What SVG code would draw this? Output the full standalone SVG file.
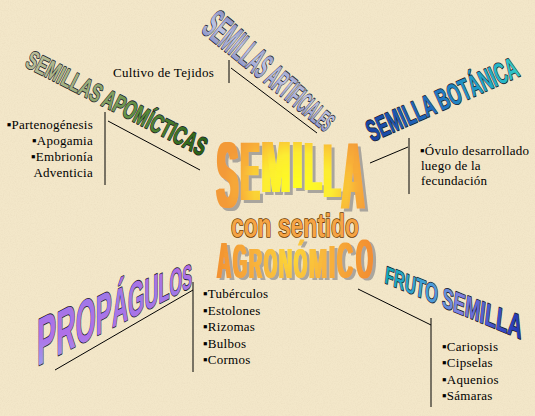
<svg xmlns="http://www.w3.org/2000/svg" width="535" height="416" viewBox="0 0 535 416">
<defs>
<style>
.t{font-family:"Liberation Serif","Times New Roman",serif;font-size:13px;fill:#000;letter-spacing:0.25px}
.wa{font-family:"Liberation Sans",Arial,sans-serif;font-weight:bold;stroke:#1e1e2a;stroke-width:1.7;stroke-linejoin:round;paint-order:stroke}
.big{font-family:"Liberation Sans",Arial,sans-serif;font-weight:bold}
.ln{stroke:#000;stroke-width:1;fill:none}
</style>
<filter id="paper" x="0" y="0" width="100%" height="100%">
<feTurbulence type="fractalNoise" baseFrequency="0.85" numOctaves="2" seed="4"/>
<feColorMatrix values="0 0 0 0 0.62  0 0 0 0 0.52  0 0 0 0 0.36  0 0 0 0.9 -0.35"/>
</filter>
<filter id="fatShadow" x="-5%" y="-5%" width="115%" height="115%">
<feMorphology in="SourceGraphic" operator="dilate" radius="1.5 0.4" result="fat"/>
<feMorphology in="SourceAlpha" operator="dilate" radius="1.5 0.4" result="fa"/>
<feOffset in="fa" dx="3" dy="3" result="off"/>
<feFlood flood-color="#a9a59d"/>
<feComposite in2="off" operator="in" result="sh"/>
<feMerge><feMergeNode in="sh"/><feMergeNode in="fat"/></feMerge>
</filter>
<filter id="fatShadow2" x="-5%" y="-5%" width="115%" height="115%">
<feMorphology in="SourceGraphic" operator="dilate" radius="1.4 0.3" result="fat"/>
<feMorphology in="SourceAlpha" operator="dilate" radius="1.4 0.3" result="fa"/>
<feOffset in="fa" dx="2.5" dy="1.5" result="off"/>
<feFlood flood-color="#aaa69e"/>
<feComposite in2="off" operator="in" result="sh"/>
<feMerge><feMergeNode in="sh"/><feMergeNode in="fat"/></feMerge>
</filter>
<linearGradient id="gArt" x1="0" y1="0" x2="0" y2="1">
<stop offset="0" stop-color="#6c74b4"/><stop offset="0.5" stop-color="#bcc2e2"/><stop offset="1" stop-color="#7880bc"/>
</linearGradient>
<linearGradient id="gApo" x1="0" y1="0" x2="1" y2="0">
<stop offset="0" stop-color="#b8bc98"/><stop offset="0.35" stop-color="#98ab78"/><stop offset="0.62" stop-color="#5a8c3c"/><stop offset="1" stop-color="#286014"/>
</linearGradient>
<linearGradient id="gBot" x1="0" y1="0" x2="1" y2="0">
<stop offset="0" stop-color="#1844a4"/><stop offset="0.45" stop-color="#2070c0"/><stop offset="0.8" stop-color="#20a8c8"/><stop offset="1" stop-color="#30c8c4"/>
</linearGradient>
<linearGradient id="gPro" x1="0" y1="1" x2="1" y2="0">
<stop offset="0" stop-color="#90b0f0"/><stop offset="0.3" stop-color="#b070e8"/><stop offset="0.55" stop-color="#a078e8"/><stop offset="0.8" stop-color="#b868e0"/><stop offset="1" stop-color="#90c8f0"/>
</linearGradient>
<linearGradient id="gFru" x1="0" y1="0" x2="1" y2="0">
<stop offset="0" stop-color="#10a8b8"/><stop offset="0.3" stop-color="#40a0d8"/><stop offset="0.55" stop-color="#8080e0"/><stop offset="0.8" stop-color="#4050c8"/><stop offset="1" stop-color="#2038b0"/>
</linearGradient>
<radialGradient id="gSem" gradientUnits="userSpaceOnUse" cx="298" cy="185" r="72">
<stop offset="0" stop-color="#ffff20"/><stop offset="0.45" stop-color="#fcec30"/><stop offset="0.78" stop-color="#f8b038"/><stop offset="1" stop-color="#f39a38"/>
</radialGradient>
<radialGradient id="gAgr" gradientUnits="userSpaceOnUse" cx="292" cy="258" r="80">
<stop offset="0" stop-color="#fcd838"/><stop offset="0.4" stop-color="#f8b63c"/><stop offset="1" stop-color="#f28e30"/>
</radialGradient>
</defs>
<rect width="535" height="416" fill="#f3e7c9"/>
<rect width="535" height="416" filter="url(#paper)" opacity="0.35"/>

<g id="connectors">
<path class="ln" d="M229 60V83M231 68L317 133"/>
<path class="ln" d="M105 112V185M108 121L200 170"/>
<path class="ln" d="M409 138V194M370 163L408 147"/>
<path class="ln" d="M193 282V372M55 370L193 290"/>
<path class="ln" d="M431 318V407M358 289L431 325"/>
</g>

<g id="n-artificiales">
<text class="wa" fill="url(#gArt)" transform="translate(200,31) rotate(39)" textLength="161" lengthAdjust="spacingAndGlyphs"><tspan font-size="42">S</tspan><tspan font-size="41">E</tspan><tspan font-size="40">M</tspan><tspan font-size="39">I</tspan><tspan font-size="38">L</tspan><tspan font-size="38">L</tspan><tspan font-size="37">A</tspan><tspan font-size="36">S</tspan><tspan font-size="35"> </tspan><tspan font-size="34">A</tspan><tspan font-size="33">R</tspan><tspan font-size="33">T</tspan><tspan font-size="32">I</tspan><tspan font-size="31">F</tspan><tspan font-size="30">I</tspan><tspan font-size="29">C</tspan><tspan font-size="28">I</tspan><tspan font-size="28">A</tspan><tspan font-size="27">L</tspan><tspan font-size="26">E</tspan><tspan font-size="26">S</tspan></text>
<text class="t" x="113" y="77" textLength="101">Cultivo de Tejidos</text>
</g>

<g id="n-apomicticas">
<text class="wa" fill="url(#gApo)" font-size="26" transform="translate(24,66) rotate(27)" textLength="199" lengthAdjust="spacingAndGlyphs">SEMILLAS APOMÍCTICAS</text>
<text class="t" text-anchor="end" x="93" y="129">▪Partenogénesis</text>
<text class="t" text-anchor="end" x="93" y="145">▪Apogamia</text>
<text class="t" text-anchor="end" x="93" y="161">▪Embrionía</text>
<text class="t" text-anchor="end" x="93" y="177">Adventicia</text>
</g>

<g id="n-botanica">
<text class="wa" fill="url(#gBot)" font-size="30" transform="translate(372,142) rotate(-24)" textLength="163" lengthAdjust="spacingAndGlyphs">SEMILLA BOTÁNICA</text>
<text class="t" x="420" y="155">▪Óvulo desarrollado</text>
<text class="t" x="421" y="170">luego de la</text>
<text class="t" x="421" y="185">fecundación</text>
</g>

<g id="n-propagulos">
<text class="wa" fill="url(#gPro)" transform="skewY(-27.2)" x="37" y="385.5" textLength="155" lengthAdjust="spacingAndGlyphs"><tspan font-size="67">P</tspan><tspan font-size="63">R</tspan><tspan font-size="60">O</tspan><tspan font-size="56">P</tspan><tspan font-size="52">Á</tspan><tspan font-size="49">G</tspan><tspan font-size="45">U</tspan><tspan font-size="42">L</tspan><tspan font-size="38">O</tspan><tspan font-size="34">S</tspan></text>
<text class="t" x="203" y="298">▪Tubérculos</text>
<text class="t" x="203" y="315">▪Estolones</text>
<text class="t" x="203" y="331">▪Rizomas</text>
<text class="t" x="203" y="348">▪Bulbos</text>
<text class="t" x="203" y="364">▪Cormos</text>
</g>

<g id="n-fruto">
<text class="wa" fill="url(#gFru)" font-style="italic" transform="skewY(22.5)" x="385" y="123.5" textLength="137" lengthAdjust="spacingAndGlyphs"><tspan font-size="25">F</tspan><tspan font-size="26">R</tspan><tspan font-size="26">U</tspan><tspan font-size="27">T</tspan><tspan font-size="28">O</tspan><tspan font-size="29"> </tspan><tspan font-size="29">S</tspan><tspan font-size="30">E</tspan><tspan font-size="31">M</tspan><tspan font-size="32">I</tspan><tspan font-size="32">L</tspan><tspan font-size="33">L</tspan><tspan font-size="34">A</tspan></text>
<text class="t" x="442" y="351">▪Cariopsis</text>
<text class="t" x="442" y="367">▪Cipselas</text>
<text class="t" x="442" y="384">▪Aquenios</text>
<text class="t" x="442" y="400">▪Sámaras</text>
</g>

<g id="n-center">
<text class="big" fill="url(#gSem)" filter="url(#fatShadow)"><tspan x="217" y="207" font-size="93.6" textLength="21" lengthAdjust="spacingAndGlyphs">S</tspan><tspan x="241" y="200" font-size="83.8" textLength="18" lengthAdjust="spacingAndGlyphs">E</tspan><tspan x="262" y="192" font-size="72.6" textLength="28" lengthAdjust="spacingAndGlyphs">M</tspan><tspan x="293" y="188" font-size="67" textLength="9" lengthAdjust="spacingAndGlyphs">I</tspan><tspan x="305" y="190" font-size="68.4" textLength="16" lengthAdjust="spacingAndGlyphs">L</tspan><tspan x="324" y="197" font-size="76.8" textLength="16" lengthAdjust="spacingAndGlyphs">L</tspan><tspan x="342" y="209" font-size="95" textLength="22" lengthAdjust="spacingAndGlyphs">A</tspan></text>
<text class="big" x="231" y="237" font-size="33" textLength="128" lengthAdjust="spacingAndGlyphs" fill="#f5a445" stroke="#6a3a00" stroke-width="1.6" stroke-linejoin="round" paint-order="stroke">con sentido</text>
<text class="big" fill="url(#gAgr)" filter="url(#fatShadow2)"><tspan x="217" y="278" font-size="50.3" textLength="14" lengthAdjust="spacingAndGlyphs">A</tspan><tspan x="233" y="278" font-size="48.9" textLength="14" lengthAdjust="spacingAndGlyphs">G</tspan><tspan x="249" y="278" font-size="43.3" textLength="13" lengthAdjust="spacingAndGlyphs">R</tspan><tspan x="264" y="278" font-size="43.3" textLength="13" lengthAdjust="spacingAndGlyphs">O</tspan><tspan x="279" y="278" font-size="41.9" textLength="13" lengthAdjust="spacingAndGlyphs">N</tspan><tspan x="294" y="278" font-size="41.9" textLength="13" lengthAdjust="spacingAndGlyphs">Ó</tspan><tspan x="309" y="278" font-size="43.3" textLength="18" lengthAdjust="spacingAndGlyphs">M</tspan><tspan x="329" y="278" font-size="46" textLength="6" lengthAdjust="spacingAndGlyphs">I</tspan><tspan x="337" y="278" font-size="50.3" textLength="16" lengthAdjust="spacingAndGlyphs">C</tspan><tspan x="356" y="278" font-size="55.9" textLength="17" lengthAdjust="spacingAndGlyphs">O</tspan></text>
</g>
</svg>
